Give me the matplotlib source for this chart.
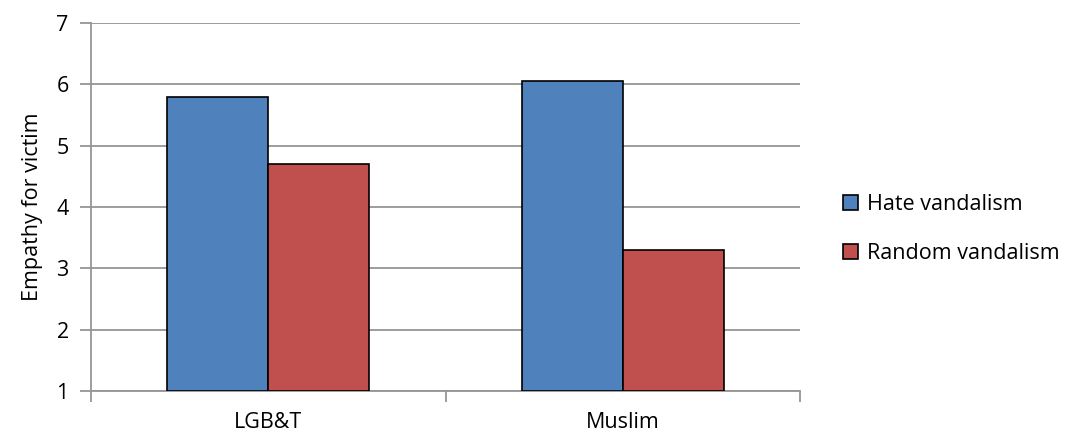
import matplotlib.pyplot as plt
import numpy as np
from matplotlib.patches import Patch

plt.rcParams['font.family'] = ['Open Sans', 'DejaVu Sans']

categories = ['LGB&T', 'Muslim']
hate = [5.8, 6.05]
random_v = [4.7, 3.3]
series_names = ['Hate vandalism', 'Random vandalism']
colors = ['#4F81BD', '#C0504D']

fig = plt.figure(figsize=(10.73, 4.36), dpi=100)
ax = fig.add_axes([0.0848, 0.1032, 0.6608, 0.844])

x = np.arange(len(categories))
w = 0.285
ax.bar(x - w / 2, np.array(hate) - 1, w, bottom=1, color=colors[0], edgecolor='black', linewidth=1.2, zorder=3)
ax.bar(x + w / 2, np.array(random_v) - 1, w, bottom=1, color=colors[1], edgecolor='black', linewidth=1.2, zorder=3)

ax.set_ylim(1, 7)
ax.set_xlim(-0.5, 1.5)
ax.set_yticks(range(1, 8))
ax.yaxis.grid(True, color='#959595', linewidth=1.3, zorder=0)
ax.tick_params(axis='y', length=8, width=1.3, color='#959595', labelsize=15.5, pad=8)

ax.set_xticks(x)
ax.set_xticklabels(categories)
ax.set_xticks([-0.5, 0.5, 1.5], minor=True)
ax.tick_params(axis='x', which='major', length=0, labelsize=15.5, pad=15)
ax.tick_params(axis='x', which='minor', length=8, width=1.3, color='#959595')

for s in ['top', 'right']:
    ax.spines[s].set_visible(False)
for s in ['left', 'bottom']:
    ax.spines[s].set_color('#959595')
    ax.spines[s].set_linewidth(1.3)

ax.set_ylabel('Empathy for victim', fontsize=15.5, labelpad=10)

handles = [Patch(facecolor=c, edgecolor='black', linewidth=1.2) for c in colors]
fig.legend(handles, series_names, loc='center left', bbox_to_anchor=(0.778, 0.475),
           frameon=False, fontsize=15.5, handlelength=0.7, handleheight=0.7,
           handletextpad=0.4, labelspacing=1.3, borderaxespad=0)

fig.savefig('out.png', dpi=100)
